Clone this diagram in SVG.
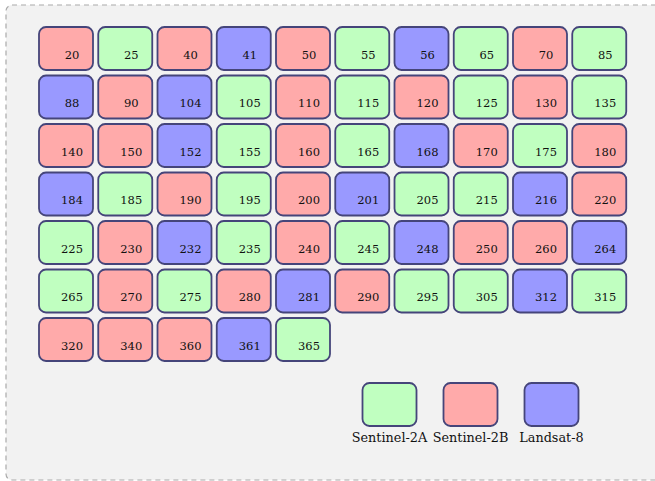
<svg xmlns="http://www.w3.org/2000/svg" width="655" height="481" viewBox="0 0 655 481">
<style>
.bg{fill:#f2f2f2;stroke:#aaaaaa;stroke-width:1.2;stroke-dasharray:5,4}
.n rect{stroke:#45457a;stroke-width:1.8}
.g rect{fill:#c0ffc0}
.r rect{fill:#ffaaaa}
.b rect{fill:#9999ff}
text{font-family:"DejaVu Serif","Liberation Serif",serif;font-size:11.5px;fill:#111;text-anchor:middle}
text.lg{font-size:12.8px}
</style>
<rect class="bg" x="6" y="5" width="660" height="475" rx="6"/>
<g id="n20" class="n r"><rect x="39" y="27" width="54" height="43" rx="7"/><text x="72" y="58.5">20</text></g>
<g id="n25" class="n g"><rect x="98.25" y="27" width="54" height="43" rx="7"/><text x="131.25" y="58.5">25</text></g>
<g id="n40" class="n r"><rect x="157.5" y="27" width="54" height="43" rx="7"/><text x="190.5" y="58.5">40</text></g>
<g id="n41" class="n b"><rect x="216.75" y="27" width="54" height="43" rx="7"/><text x="249.75" y="58.5">41</text></g>
<g id="n50" class="n r"><rect x="276" y="27" width="54" height="43" rx="7"/><text x="309" y="58.5">50</text></g>
<g id="n55" class="n g"><rect x="335.25" y="27" width="54" height="43" rx="7"/><text x="368.25" y="58.5">55</text></g>
<g id="n56" class="n b"><rect x="394.5" y="27" width="54" height="43" rx="7"/><text x="427.5" y="58.5">56</text></g>
<g id="n65" class="n g"><rect x="453.75" y="27" width="54" height="43" rx="7"/><text x="486.75" y="58.5">65</text></g>
<g id="n70" class="n r"><rect x="513" y="27" width="54" height="43" rx="7"/><text x="546" y="58.5">70</text></g>
<g id="n85" class="n g"><rect x="572.25" y="27" width="54" height="43" rx="7"/><text x="605.25" y="58.5">85</text></g>

<g id="n88" class="n b"><rect x="39" y="75.5" width="54" height="43" rx="7"/><text x="72" y="107">88</text></g>
<g id="n90" class="n r"><rect x="98.25" y="75.5" width="54" height="43" rx="7"/><text x="131.25" y="107">90</text></g>
<g id="n104" class="n b"><rect x="157.5" y="75.5" width="54" height="43" rx="7"/><text x="190.5" y="107">104</text></g>
<g id="n105" class="n g"><rect x="216.75" y="75.5" width="54" height="43" rx="7"/><text x="249.75" y="107">105</text></g>
<g id="n110" class="n r"><rect x="276" y="75.5" width="54" height="43" rx="7"/><text x="309" y="107">110</text></g>
<g id="n115" class="n g"><rect x="335.25" y="75.5" width="54" height="43" rx="7"/><text x="368.25" y="107">115</text></g>
<g id="n120" class="n r"><rect x="394.5" y="75.5" width="54" height="43" rx="7"/><text x="427.5" y="107">120</text></g>
<g id="n125" class="n g"><rect x="453.75" y="75.5" width="54" height="43" rx="7"/><text x="486.75" y="107">125</text></g>
<g id="n130" class="n r"><rect x="513" y="75.5" width="54" height="43" rx="7"/><text x="546" y="107">130</text></g>
<g id="n135" class="n g"><rect x="572.25" y="75.5" width="54" height="43" rx="7"/><text x="605.25" y="107">135</text></g>

<g id="n140" class="n r"><rect x="39" y="124" width="54" height="43" rx="7"/><text x="72" y="155.5">140</text></g>
<g id="n150" class="n r"><rect x="98.25" y="124" width="54" height="43" rx="7"/><text x="131.25" y="155.5">150</text></g>
<g id="n152" class="n b"><rect x="157.5" y="124" width="54" height="43" rx="7"/><text x="190.5" y="155.5">152</text></g>
<g id="n155" class="n g"><rect x="216.75" y="124" width="54" height="43" rx="7"/><text x="249.75" y="155.5">155</text></g>
<g id="n160" class="n r"><rect x="276" y="124" width="54" height="43" rx="7"/><text x="309" y="155.5">160</text></g>
<g id="n165" class="n g"><rect x="335.25" y="124" width="54" height="43" rx="7"/><text x="368.25" y="155.5">165</text></g>
<g id="n168" class="n b"><rect x="394.5" y="124" width="54" height="43" rx="7"/><text x="427.5" y="155.5">168</text></g>
<g id="n170" class="n r"><rect x="453.75" y="124" width="54" height="43" rx="7"/><text x="486.75" y="155.5">170</text></g>
<g id="n175" class="n g"><rect x="513" y="124" width="54" height="43" rx="7"/><text x="546" y="155.5">175</text></g>
<g id="n180" class="n r"><rect x="572.25" y="124" width="54" height="43" rx="7"/><text x="605.25" y="155.5">180</text></g>

<g id="n184" class="n b"><rect x="39" y="172.5" width="54" height="43" rx="7"/><text x="72" y="204">184</text></g>
<g id="n185" class="n g"><rect x="98.25" y="172.5" width="54" height="43" rx="7"/><text x="131.25" y="204">185</text></g>
<g id="n190" class="n r"><rect x="157.5" y="172.5" width="54" height="43" rx="7"/><text x="190.5" y="204">190</text></g>
<g id="n195" class="n g"><rect x="216.75" y="172.5" width="54" height="43" rx="7"/><text x="249.75" y="204">195</text></g>
<g id="n200" class="n r"><rect x="276" y="172.5" width="54" height="43" rx="7"/><text x="309" y="204">200</text></g>
<g id="n201" class="n b"><rect x="335.25" y="172.5" width="54" height="43" rx="7"/><text x="368.25" y="204">201</text></g>
<g id="n205" class="n g"><rect x="394.5" y="172.5" width="54" height="43" rx="7"/><text x="427.5" y="204">205</text></g>
<g id="n215" class="n g"><rect x="453.75" y="172.5" width="54" height="43" rx="7"/><text x="486.75" y="204">215</text></g>
<g id="n216" class="n b"><rect x="513" y="172.5" width="54" height="43" rx="7"/><text x="546" y="204">216</text></g>
<g id="n220" class="n r"><rect x="572.25" y="172.5" width="54" height="43" rx="7"/><text x="605.25" y="204">220</text></g>

<g id="n225" class="n g"><rect x="39" y="221" width="54" height="43" rx="7"/><text x="72" y="252.5">225</text></g>
<g id="n230" class="n r"><rect x="98.25" y="221" width="54" height="43" rx="7"/><text x="131.25" y="252.5">230</text></g>
<g id="n232" class="n b"><rect x="157.5" y="221" width="54" height="43" rx="7"/><text x="190.5" y="252.5">232</text></g>
<g id="n235" class="n g"><rect x="216.75" y="221" width="54" height="43" rx="7"/><text x="249.75" y="252.5">235</text></g>
<g id="n240" class="n r"><rect x="276" y="221" width="54" height="43" rx="7"/><text x="309" y="252.5">240</text></g>
<g id="n245" class="n g"><rect x="335.25" y="221" width="54" height="43" rx="7"/><text x="368.25" y="252.5">245</text></g>
<g id="n248" class="n b"><rect x="394.5" y="221" width="54" height="43" rx="7"/><text x="427.5" y="252.5">248</text></g>
<g id="n250" class="n r"><rect x="453.75" y="221" width="54" height="43" rx="7"/><text x="486.75" y="252.5">250</text></g>
<g id="n260" class="n r"><rect x="513" y="221" width="54" height="43" rx="7"/><text x="546" y="252.5">260</text></g>
<g id="n264" class="n b"><rect x="572.25" y="221" width="54" height="43" rx="7"/><text x="605.25" y="252.5">264</text></g>

<g id="n265" class="n g"><rect x="39" y="269.5" width="54" height="43" rx="7"/><text x="72" y="301">265</text></g>
<g id="n270" class="n r"><rect x="98.25" y="269.5" width="54" height="43" rx="7"/><text x="131.25" y="301">270</text></g>
<g id="n275" class="n g"><rect x="157.5" y="269.5" width="54" height="43" rx="7"/><text x="190.5" y="301">275</text></g>
<g id="n280" class="n r"><rect x="216.75" y="269.5" width="54" height="43" rx="7"/><text x="249.75" y="301">280</text></g>
<g id="n281" class="n b"><rect x="276" y="269.5" width="54" height="43" rx="7"/><text x="309" y="301">281</text></g>
<g id="n290" class="n r"><rect x="335.25" y="269.5" width="54" height="43" rx="7"/><text x="368.25" y="301">290</text></g>
<g id="n295" class="n g"><rect x="394.5" y="269.5" width="54" height="43" rx="7"/><text x="427.5" y="301">295</text></g>
<g id="n305" class="n g"><rect x="453.75" y="269.5" width="54" height="43" rx="7"/><text x="486.75" y="301">305</text></g>
<g id="n312" class="n b"><rect x="513" y="269.5" width="54" height="43" rx="7"/><text x="546" y="301">312</text></g>
<g id="n315" class="n g"><rect x="572.25" y="269.5" width="54" height="43" rx="7"/><text x="605.25" y="301">315</text></g>

<g id="n320" class="n r"><rect x="39" y="318" width="54" height="43" rx="7"/><text x="72" y="349.5">320</text></g>
<g id="n340" class="n r"><rect x="98.25" y="318" width="54" height="43" rx="7"/><text x="131.25" y="349.5">340</text></g>
<g id="n360" class="n r"><rect x="157.5" y="318" width="54" height="43" rx="7"/><text x="190.5" y="349.5">360</text></g>
<g id="n361" class="n b"><rect x="216.75" y="318" width="54" height="43" rx="7"/><text x="249.75" y="349.5">361</text></g>
<g id="n365" class="n g"><rect x="276" y="318" width="54" height="43" rx="7"/><text x="309" y="349.5">365</text></g>

<g id="legend-s2a" class="n g"><rect x="362.5" y="383" width="54" height="43" rx="7"/><text class="lg" x="389.5" y="442">Sentinel-2A</text></g>
<g id="legend-s2b" class="n r"><rect x="443.5" y="383" width="54" height="43" rx="7"/><text class="lg" x="470.5" y="442">Sentinel-2B</text></g>
<g id="legend-l8" class="n b"><rect x="524.5" y="383" width="54" height="43" rx="7"/><text class="lg" x="551.5" y="442">Landsat-8</text></g>
<g id="connectors"/>
</svg>
